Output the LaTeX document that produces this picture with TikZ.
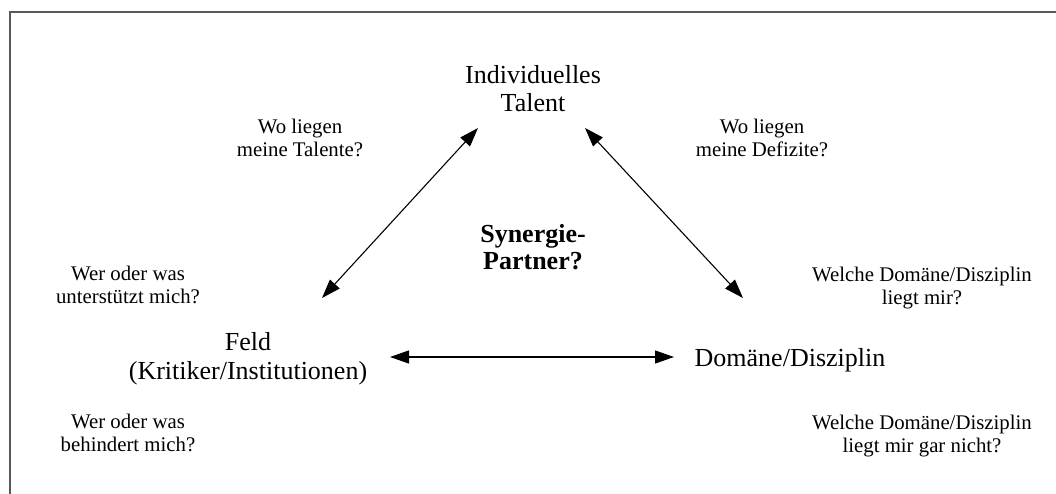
\documentclass[tikz,border=0pt]{standalone}
\usepackage{fontspec}
\setmainfont{Liberation Serif}
\usetikzlibrary{arrows.meta}

% multi-line nodes are placed by the baseline of their last line (anchor=base)
\tikzset{
  frameline/.style={draw=black!65, line width=1.6pt},
  bigtext/.style={font=\fontsize{26}{28.5}\selectfont, align=center, anchor=base, inner sep=0pt},
  question/.style={font=\fontsize{20.8}{23}\selectfont, align=center, anchor=base, inner sep=0pt},
  boldtext/.style={font=\fontsize{26}{26}\selectfont\bfseries, align=center, anchor=base, inner sep=0pt},
  link/.style={line width=1.1pt, {Triangle[length=19pt,width=13pt]}-{Triangle[length=19pt,width=13pt]}}
}

\begin{document}
\begin{tikzpicture}[x=1pt,y=-1pt]
  \useasboundingbox (0,0) rectangle (1056,494);

  % open frame: top and left edges only
  \coordinate (frameTR) at (1056,12);
  \coordinate (frameTL) at (10,12);
  \coordinate (frameBL) at (10,494);
  \draw[frameline] (frameTR) -- (frameTL) -- (frameBL);

  % corner concepts
  \node[bigtext] (talent) at (533,112) {Individuelles\\Talent};
  \node[bigtext] (feld) at (248,379) {Feld\\(Kritiker/Institutionen)};
  \node[bigtext] (domaene) at (790,366) {Domäne/Disziplin};

  % centre question
  \node[boldtext] (synergie) at (533,269) {Synergie-\\Partner?};

  % guiding questions
  \node[question] (qtalente) at (300,157) {Wo liegen\\meine Talente?};
  \node[question] (qdefizite) at (762,157) {Wo liegen\\meine Defizite?};
  \node[question] (qunterst) at (128,303) {Wer oder was\\unterstützt mich?};
  \node[question] (qbehind) at (128,451) {Wer oder was\\behindert mich?};
  \node[question] (qliegt) at (922,304) {Welche Domäne/Disziplin\\liegt mir?};
  \node[question] (qnicht) at (922,452) {Welche Domäne/Disziplin\\liegt mir gar nicht?};

  % arrow ends
  \coordinate (tFeld) at (478,128);
  \coordinate (fTalent) at (322,298);
  \coordinate (tDom) at (585,128);
  \coordinate (dTalent) at (743,298);
  \coordinate (fDom) at (390,357);
  \coordinate (dFeld) at (674,357);

  \draw[link] (fTalent) -- (tFeld);
  \draw[link] (tDom) -- (dTalent);
  \draw[link] (fDom) -- (dFeld);
\end{tikzpicture}
\end{document}
